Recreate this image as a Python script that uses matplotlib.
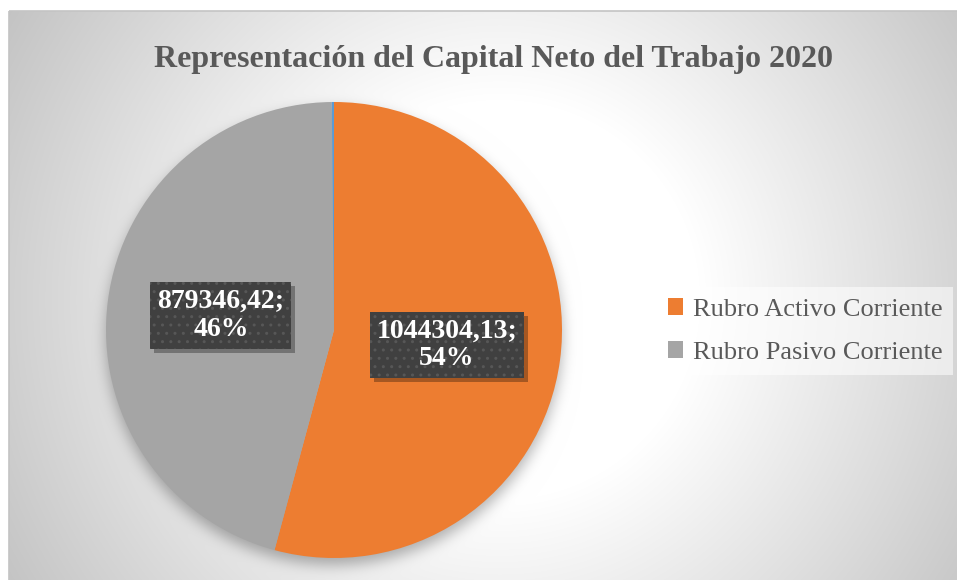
import numpy as np
import matplotlib

matplotlib.use("Agg")
import matplotlib.pyplot as plt
from matplotlib.patches import Rectangle

W, H = 957, 580

TITLE = "Representación del Capital Neto del Trabajo 2020"
categories = ["Rubro Activo Corriente", "Rubro Pasivo Corriente", ""]
values = [1044304.13, 879346.42, 3000.0]
colors = ["#ED7D31", "#A5A5A5", "#5B9BD5"]

TEXT = "#595959"
plt.rcParams["font.family"] = ["Liberation Serif", "DejaVu Serif"]


def blur(a, sig):
    k = np.arange(-3 * sig, 3 * sig + 1)
    g = np.exp(-k ** 2 / (2.0 * sig ** 2))
    g /= g.sum()
    a = np.apply_along_axis(lambda m: np.convolve(m, g, mode="same"), 0, a)
    return np.apply_along_axis(lambda m: np.convolve(m, g, mode="same"), 1, a)


fig = plt.figure(figsize=(W / 100, H / 100), dpi=100)
fig.patch.set_facecolor("white")

# background: radial grey gradient + soft shadow under the pie
bg = fig.add_axes([0, 0, 1, 1])
bg.axis("off")
x0, y0 = 9, 11
cx, cy, R = 334, 330, 228
yy, xx = np.mgrid[y0:H, x0:W] + 0.5
r = np.hypot(xx - 500, yy - 300)
shade = 1 - 0.24 * np.clip((r - 200) / 380, 0, 1)
shadow = blur((np.hypot(xx - cx, yy - (cy + 7)) <= R).astype(float), 7)
shade = shade * (1 - 0.3 * shadow)
bg.imshow(np.dstack([shade] * 3), extent=(x0, W, H, y0), aspect="auto",
          interpolation="bilinear")
bg.add_patch(Rectangle((x0, y0), W - x0 + 2, H - y0 + 2, fill=False,
                       edgecolor="#c4c4c4", lw=1.2))
bg.set_xlim(0, W)
bg.set_ylim(H, 0)

bg.text(494, 60, TITLE, ha="center", va="center", fontsize=23,
        fontweight="bold", color=TEXT)

# pie
ax = fig.add_axes([(cx - R) / W, (H - cy - R) / H, 2 * R / W, 2 * R / H])
wedges, _ = ax.pie(values, colors=colors, startangle=90, counterclock=False,
                   wedgeprops=dict(linewidth=0))
ax.set_xlim(-1, 1)
ax.set_ylim(-1, 1)

total = sum(values)
labels = []
for w, v in zip(wedges[:2], values[:2]):
    mid = np.deg2rad((w.theta1 + w.theta2) / 2)
    x, y = 0.5 * np.cos(mid), 0.5 * np.sin(mid)
    label = f"{v:.2f}".replace(".", ",") + f";\n{v / total * 100:.0f}%"
    t = ax.text(x, y, label, ha="center", va="center", fontsize=20,
                fontweight="bold", color="white", linespacing=1.15, zorder=6,
                bbox=dict(boxstyle="square,pad=0.25", fc="#404040",
                          ec="#575757", lw=0, hatch=".."))
    labels.append(t)

# drop shadow behind the label boxes (between wedges and labels)
fig.canvas.draw()
for t in labels:
    bb = t.get_bbox_patch().get_window_extent()
    sh = Rectangle((bb.x0 + 4, bb.y0 - 4), bb.width, bb.height,
                   facecolor="black", alpha=0.3, lw=0, zorder=4)
    sh.set_transform(matplotlib.transforms.IdentityTransform())
    ax.add_patch(sh)

leg = fig.legend(wedges[:2], categories[:2], loc="center left",
                 bbox_to_anchor=(657 / W, (H - 331) / H), borderaxespad=0,
                 frameon=True, framealpha=0.55, facecolor="white",
                 edgecolor="none", fancybox=False, fontsize=19,
                 handlelength=0.6, handleheight=0.6, handletextpad=0.35,
                 labelspacing=0.78, borderpad=0.4, labelcolor=TEXT)

fig.savefig("out.png", dpi=100)
